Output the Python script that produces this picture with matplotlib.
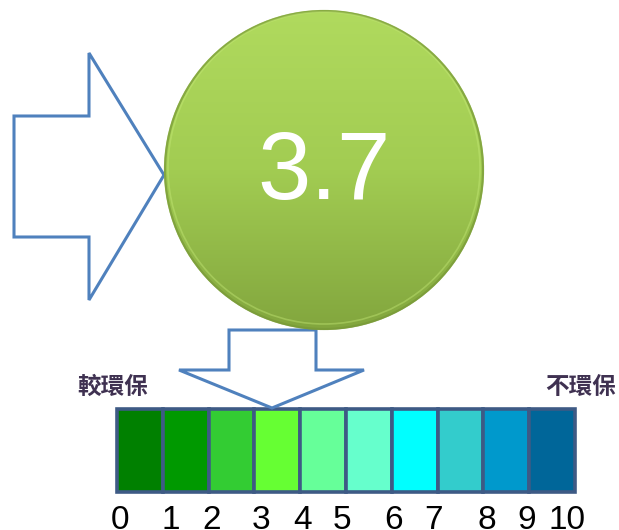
import numpy as np
import matplotlib
matplotlib.use("Agg")
import matplotlib.pyplot as plt
from matplotlib.patches import Circle, Polygon, Rectangle
from matplotlib.colors import LinearSegmentedColormap

# data
score = 3.7
scale_colors = ['#008000', '#009900', '#33CC33', '#66FF33', '#66FF99',
                '#66FFCC', '#00FFFF', '#33CCCC', '#0099CC', '#006699']
tick_labels = ['0', '1', '2', '3', '4', '5', '6', '7', '8', '9', '10']
left_label = '較環保'
right_label = '不環保'

W, H = 619, 530
fig = plt.figure(figsize=(W / 100, H / 100), dpi=100)
ax = fig.add_axes([0, 0, 1, 1])
ax.set_xlim(0, W)
ax.set_ylim(H, 0)
ax.axis('off')

# scale geometry (pixels)
x0, cell = 117, 45.8
y_top, y_bot = 409, 492

def vx(v):
    return x0 + v * cell

# colour boxes
for i, c in enumerate(scale_colors):
    ax.add_patch(Rectangle((vx(i), y_top), cell, y_bot - y_top,
                           facecolor=c, edgecolor='#3E5A85', lw=2.6, zorder=2))

nudge = [3, 8, 3, 7, 2, -4, 2, -4, 3, -3, -8]
for i, t in enumerate(tick_labels):
    ax.text(vx(i) + nudge[i], 529, t, ha='center', va='baseline',
            fontsize=24, family='Liberation Sans', color='black')

cjk = ['Noto Sans CJK TC', 'DejaVu Sans']
ax.text(77, 387, left_label, ha='left', va='center', fontsize=17,
        fontweight='bold', family=cjk, color='#3F3151')
ax.text(616, 387, right_label, ha='right', va='center', fontsize=17,
        fontweight='bold', family=cjk, color='#3F3151')

# right-pointing arrow
arrow_col = '#4F81BD'
right_arrow = [(14, 116), (89, 116), (89, 53), (164, 175), (89, 300), (89, 237), (14, 237)]
ax.add_patch(Polygon(right_arrow, closed=True, facecolor='white',
                     edgecolor=arrow_col, lw=2.2, zorder=3))

# down arrow
down_arrow = [(229, 330), (316, 330), (316, 370), (364, 370), (272, 408),
              (179, 370), (229, 370)]
ax.add_patch(Polygon(down_arrow, closed=True, facecolor='white',
                     edgecolor=arrow_col, lw=2.2, zorder=3))

# green ball with vertical gradient
cx, cy, r = 324, 170, 160
cmap = LinearSegmentedColormap.from_list('g', ['#B0DA5E', '#A2CC52', '#82A63E'])
grad = np.linspace(0, 1, 256).reshape(-1, 1)
im = ax.imshow(grad, cmap=cmap, extent=(cx - r, cx + r, cy + r, cy - r),
               aspect='auto', zorder=4)
clip = Circle((cx, cy), r, transform=ax.transData)
im.set_clip_path(clip)
ax.add_patch(Circle((cx, cy), r - 1, facecolor='none', edgecolor='#789838',
                    lw=1.6, alpha=0.7, zorder=5))
ax.add_patch(Circle((cx, cy - 2), r - 4, facecolor='none', edgecolor='#C8EC7A',
                    lw=1.2, alpha=0.4, zorder=5))
ax.set_xlim(0, W)
ax.set_ylim(H, 0)

ax.text(cx, 174, f'{score}', ha='center', va='center', fontsize=69,
        family='Liberation Sans', color='white', zorder=6)

fig.savefig('out.png', dpi=100, facecolor='white')
